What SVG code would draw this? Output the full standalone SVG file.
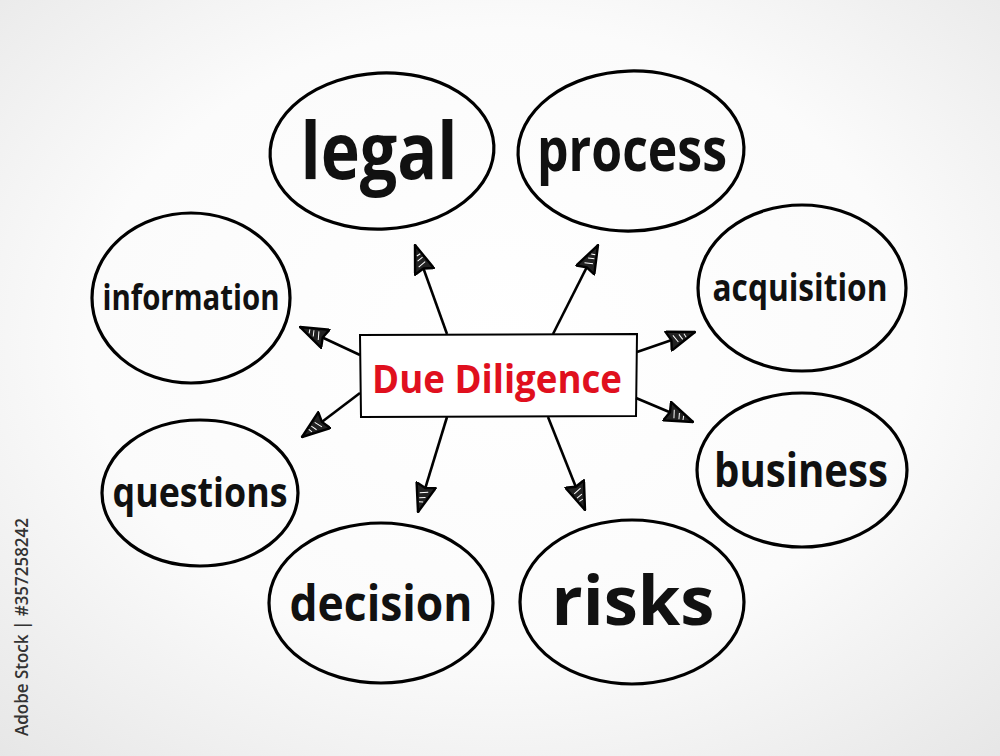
<svg xmlns="http://www.w3.org/2000/svg" width="1000" height="756" viewBox="0 0 1000 756">
<defs>
<radialGradient id="bg" cx="0.5" cy="0.45" r="0.75">
<stop offset="0" stop-color="#ffffff"/>
<stop offset="0.55" stop-color="#fbfbfb"/>
<stop offset="1" stop-color="#e6e6e6"/>
</radialGradient>
<marker id="ah" viewBox="0 0 30 22" refX="29" refY="11" markerWidth="30" markerHeight="22" markerUnits="userSpaceOnUse" orient="auto">
<path d="M29,11 L1,1 L4,11 L1,21 Z" fill="#222" stroke="#000" stroke-width="2.4" stroke-linejoin="round"/>
<path d="M7,7 L10,15 M13,8 L15,14 M18,9 L19,13" fill="none" stroke="#fff" stroke-width="1"/>
</marker>
<style>
.node ellipse{fill:none;stroke:#000;stroke-width:3.2}
.lbl{font-family:"Open Sans","DejaVu Sans",sans-serif;font-weight:700;fill:#111;text-anchor:middle;dominant-baseline:central}
.conn line{stroke:#000;stroke-width:2.6;marker-end:url(#ah)}
</style>
</defs>
<rect width="1000" height="756" fill="url(#bg)"/>
<text transform="translate(28,736) rotate(-90)" font-family="'Open Sans','DejaVu Sans',sans-serif" font-weight="600" font-size="18" fill="#333" textLength="218" lengthAdjust="spacingAndGlyphs">Adobe Stock | #357258242</text>

<g id="center">
<path d="M360,335 L637,334 L636,416 L361,417 Z" fill="#fff" stroke="#000" stroke-width="2"/>
<text class="lbl" x="497" y="377" font-size="40" style="fill:#e0101e" textLength="250" lengthAdjust="spacingAndGlyphs">Due Diligence</text>
</g>

<g id="legal" class="node">
<ellipse cx="382" cy="151" rx="112" ry="78" transform="rotate(-3 382 151)"/>
<text class="lbl" x="379" y="149" font-size="78" textLength="157" lengthAdjust="spacingAndGlyphs">legal</text>
</g>
<g id="process" class="node">
<ellipse cx="631" cy="151" rx="113" ry="80" transform="rotate(-2 631 151)"/>
<text class="lbl" x="632" y="148" font-size="60" textLength="190" lengthAdjust="spacingAndGlyphs">process</text>
</g>
<g id="acquisition" class="node">
<ellipse cx="802" cy="288" rx="104" ry="83"/>
<text class="lbl" x="800" y="286" font-size="38" textLength="175" lengthAdjust="spacingAndGlyphs">acquisition</text>
</g>
<g id="information" class="node">
<ellipse cx="191" cy="298" rx="99" ry="85"/>
<text class="lbl" x="191" y="296" font-size="36" textLength="177" lengthAdjust="spacingAndGlyphs">information</text>
</g>
<g id="business" class="node">
<ellipse cx="802" cy="470" rx="105" ry="77"/>
<text class="lbl" x="801" y="469" font-size="46" textLength="174" lengthAdjust="spacingAndGlyphs">business</text>
</g>
<g id="questions" class="node">
<ellipse cx="200" cy="493" rx="98" ry="73"/>
<text class="lbl" x="200" y="490" font-size="42" textLength="175" lengthAdjust="spacingAndGlyphs">questions</text>
</g>
<g id="decision" class="node">
<ellipse cx="381" cy="603" rx="112" ry="80"/>
<text class="lbl" x="381" y="602" font-size="50" textLength="183" lengthAdjust="spacingAndGlyphs">decision</text>
</g>
<g id="risks" class="node">
<ellipse cx="632" cy="602" rx="112" ry="82"/>
<text class="lbl" x="633" y="598" font-size="68" textLength="163" lengthAdjust="spacingAndGlyphs">risks</text>
</g>

<g id="connectors" class="conn">
<line x1="447" y1="334" x2="415" y2="245"/>
<line x1="553" y1="334" x2="598" y2="245"/>
<line x1="360" y1="355" x2="300" y2="327"/>
<line x1="360" y1="393" x2="302" y2="437"/>
<line x1="637" y1="352" x2="695" y2="332"/>
<line x1="636" y1="398" x2="693" y2="422"/>
<line x1="447" y1="417" x2="418" y2="512"/>
<line x1="548" y1="417" x2="585" y2="510"/>
</g>
</svg>
